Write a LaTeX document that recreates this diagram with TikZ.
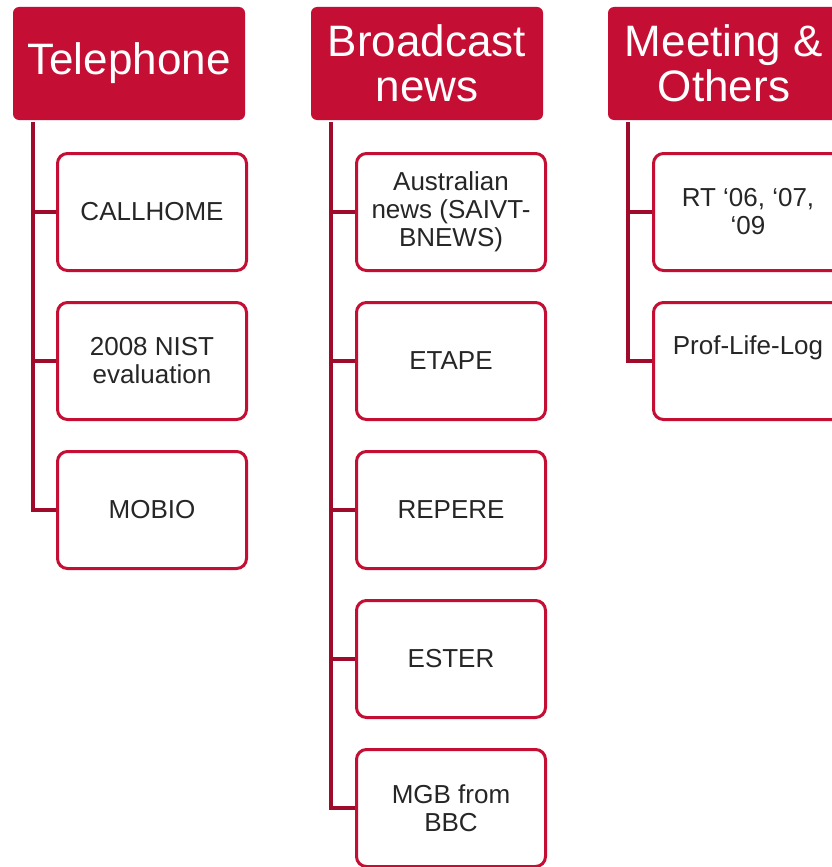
\documentclass[tikz,border=0pt]{standalone}
\usepackage{fontspec}
\setmainfont{Liberation Sans}
\usepackage{xcolor}
\usetikzlibrary{positioning}
\definecolor{crimson}{HTML}{C50E33}
\definecolor{darkcrimson}{HTML}{9E0B2B}
\definecolor{txtgray}{HTML}{262626}

\begin{document}
\begin{tikzpicture}
  [
    x=1pt, y=-1pt,
    Head/.style={rectangle, rounded corners=6pt, fill=crimson, text=white, minimum width=232pt, minimum height=113pt, align=center, font=\fontsize{44}{45}\selectfont},
    Leaf/.style={rectangle, rounded corners=10pt, draw=crimson, line width=3pt, fill=white, text=txtgray, minimum width=189pt, minimum height=117pt, align=center, font=\fontsize{26}{28}\selectfont},
    Link/.style={draw=darkcrimson, line width=4pt}
  ]
  \useasboundingbox[fill=white] (0,0) rectangle (832,867);

  % Nodes
  \node[Head] (h1) at(129, 63.5) {Telephone};
  \node[Head] (h2) at(427, 63.5) {Broadcast\\news};
  \node[Head] (h3) at(724, 63.5) {Meeting \&\\Others};

  \node[Leaf] (a1) at(152, 212) {CALLHOME};
  \node[Leaf] (a2) at(152, 361) {2008 NIST\\evaluation};
  \node[Leaf] (a3) at(152, 510) {MOBIO};

  \node[Leaf] (b1) at(451, 212) {Australian\\news (SAIVT-\\BNEWS)};
  \node[Leaf] (b2) at(451, 361) {ETAPE};
  \node[Leaf] (b3) at(451, 510) {REPERE};
  \node[Leaf] (b4) at(451, 659) {ESTER};
  \node[Leaf] (b5) at(451, 808) {MGB from\\BBC};

  \node[Leaf] (c1) at(748, 212) {RT ‘06, ‘07,\\‘09};
  \node[Leaf] (c2) at(748, 361) {Prof-Life-Log\\[4pt]~};

  % Lines
  \path [Link] ([xshift=20pt, yshift=-2pt]h1.south west) |- (a1.west);
  \path [Link] ([xshift=20pt, yshift=-2pt]h1.south west) |- (a2.west);
  \path [Link] ([xshift=20pt, yshift=-2pt]h1.south west) |- (a3.west);

  \path [Link] ([xshift=20pt, yshift=-2pt]h2.south west) |- (b1.west);
  \path [Link] ([xshift=20pt, yshift=-2pt]h2.south west) |- (b2.west);
  \path [Link] ([xshift=20pt, yshift=-2pt]h2.south west) |- (b3.west);
  \path [Link] ([xshift=20pt, yshift=-2pt]h2.south west) |- (b4.west);
  \path [Link] ([xshift=20pt, yshift=-2pt]h2.south west) |- (b5.west);

  \path [Link] ([xshift=20pt, yshift=-2pt]h3.south west) |- (c1.west);
  \path [Link] ([xshift=20pt, yshift=-2pt]h3.south west) |- (c2.west);

\end{tikzpicture}
\end{document}
